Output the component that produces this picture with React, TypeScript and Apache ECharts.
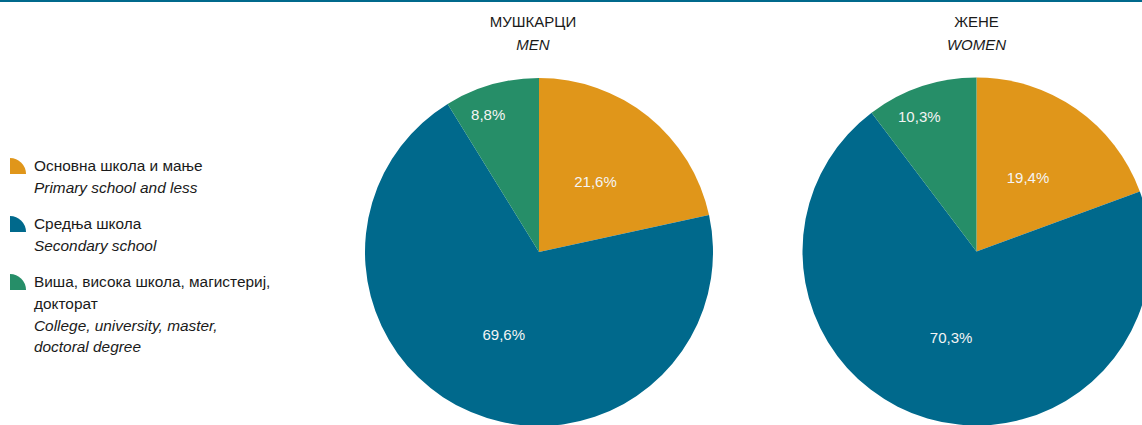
import React, { useEffect, useRef } from "react";
import * as echarts from "echarts";

const categoriesSr = ["Основна школа и мање", "Средња школа", "Виша, висока школа, магистериј,\nдокторат"];
const categoriesEn = ["Primary school and less", "Secondary school", "College, university, master,\ndoctoral degree"];
const menValues = [21.6, 69.6, 8.8];
const womenValues = [19.4, 70.3, 10.3];
const colors = ["#E0961A", "#00698C", "#268E68"];
const groupTitlesSr = ["МУШКАРЦИ", "ЖЕНЕ"];
const groupTitlesEn = ["MEN", "WOMEN"];

const FONT = "'Liberation Sans Narrow', 'Arial Narrow', 'Liberation Sans', Arial, sans-serif";
const RADIUS = 174;
const centers: [number, number][] = [
  [539, 252],
  [976.5, 251.5],
];
const titleX = [533, 976.5];

const fmt = (v: number) => v.toFixed(1).replace(".", ",") + "%";

export default function App() {
  const ref = useRef<HTMLDivElement>(null);
  useEffect(() => {
    document.body.style.margin = "0";
    if (!ref.current) return;
    const chart = echarts.init(ref.current, null, { renderer: "svg" });

    const groups = [menValues, womenValues];

    const series = groups.map((vals, gi) => {
      const total = vals.reduce((a, b) => a + b, 0);
      const [cx, cy] = centers[gi];
      return {
        type: "pie",
        center: [cx, cy],
        radius: [0, RADIUS],
        startAngle: 90,
        clockwise: true,
        silent: true,
        label: {
          show: true,
          position: "inside",
          color: "#F4F4F4",
          fontFamily: FONT,
          fontSize: 15,
          formatter: (p: any) => fmt(p.value),
        },
        labelLine: { show: false },
        labelLayout: (p: any) => {
          if (p.dataIndex !== 2) return {};
          const before = vals.slice(0, 2).reduce((a, b) => a + b, 0);
          const mid = ((before + vals[2] / 2) / total) * 2 * Math.PI - (4.5 * Math.PI) / 180;
          const d = RADIUS * 0.84;
          return {
            x: cx + Math.sin(mid) * d,
            y: cy - Math.cos(mid) * d,
            align: "center",
            verticalAlign: "middle",
          };
        },
        itemStyle: { borderWidth: 0 },
        data: vals.map((v, i) => ({
          name: categoriesSr[i],
          value: v,
          itemStyle: { color: colors[i] },
        })),
      };
    });

    const legendTops = [166, 224, 282];
    const legendGraphics: any[] = [];
    categoriesSr.forEach((sr, i) => {
      const y = legendTops[i];
      legendGraphics.push({
        type: "sector",
        shape: { cx: 10, cy: y + 8, r: 16, startAngle: -Math.PI / 2, endAngle: 0, clockwise: true },
        style: { fill: colors[i] },
      });
      legendGraphics.push({
        type: "text",
        x: 34,
        y: y - 11,
        style: {
          text: `{a|${sr}}\n{b|${categoriesEn[i]}}`,
          rich: {
            a: { fontFamily: FONT, fontSize: 15.4, lineHeight: 21.6, fill: "#1A1A1A" },
            b: { fontFamily: FONT, fontSize: 15.4, lineHeight: 21.6, fontStyle: "italic", fill: "#1A1A1A" },
          },
        },
      });
    });

    const titleGraphics = groupTitlesSr.map((t, gi) => ({
      type: "text",
      x: titleX[gi],
      y: 10,
      style: {
        text: `{a|${t}}\n{b|${groupTitlesEn[gi]}}`,
        align: "center",
        rich: {
          a: { fontFamily: FONT, fontSize: 15, lineHeight: 23, fill: "#1A1A1A", align: "center" },
          b: { fontFamily: FONT, fontSize: 15, lineHeight: 22, fontStyle: "italic", fill: "#1A1A1A", align: "center" },
        },
      },
    }));

    chart.setOption({
      animation: false,
      backgroundColor: "#FFFFFF",
      series,
      graphic: [
        { type: "rect", shape: { x: 0, y: 0, width: 1142, height: 2 }, style: { fill: "#00698C" } },
        ...legendGraphics,
        ...titleGraphics,
      ],
    });
    return () => chart.dispose();
  }, []);
  return <div ref={ref} style={{ width: 1142, height: 425 }} />;
}
